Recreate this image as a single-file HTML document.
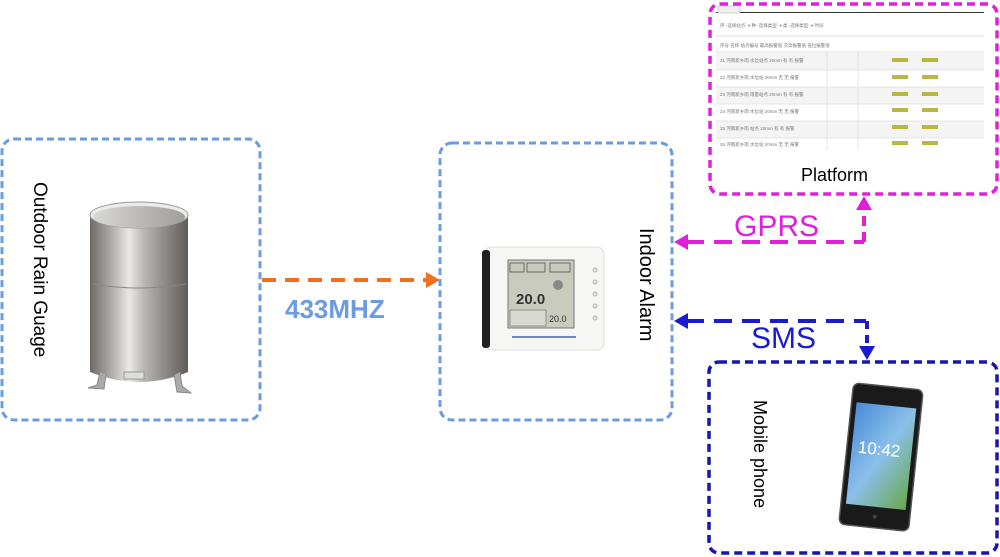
<!DOCTYPE html>
<html><head><meta charset="utf-8"><style>
html,body{margin:0;padding:0;background:#fff;width:1000px;height:557px;overflow:hidden}
svg{display:block}
text{font-family:"Liberation Sans","Noto Sans CJK SC",sans-serif}
</style></head><body>
<svg width="1000" height="557" viewBox="0 0 1000 557" xmlns="http://www.w3.org/2000/svg">
<defs>
<linearGradient id="cyl" x1="0" x2="1" y1="0" y2="0">
<stop offset="0" stop-color="#6d6a68"/><stop offset="0.15" stop-color="#9a9794"/>
<stop offset="0.4" stop-color="#e8e8e6"/><stop offset="0.55" stop-color="#b9b7b4"/>
<stop offset="0.85" stop-color="#7c7976"/><stop offset="1" stop-color="#5f5c5a"/>
</linearGradient>
<linearGradient id="inner" x1="0" x2="1"><stop offset="0" stop-color="#d8d8d6"/><stop offset="1" stop-color="#a09e9c"/></linearGradient>
<linearGradient id="scr" x1="0" x2="1" y1="0" y2="1"><stop offset="0" stop-color="#4a8ad8"/><stop offset="0.5" stop-color="#8ac0ea"/><stop offset="1" stop-color="#6aa84a"/></linearGradient>
</defs>

<rect x="2" y="139" width="258" height="281" rx="12" fill="none" stroke="#6b9be0" stroke-width="3" stroke-dasharray="7,4"/>
<text transform="translate(34,182) rotate(90)" font-size="19" fill="#000">Outdoor Rain Guage</text>
<path d="M90 215 L90 372 Q139 392 188 372 L188 215 Z" fill="url(#cyl)"/>
<ellipse cx="139" cy="215" rx="49" ry="13" fill="#ebebea" stroke="#999" stroke-width="1"/>
<ellipse cx="139" cy="217" rx="46" ry="11" fill="url(#inner)"/>
<path d="M92 284 Q139 292 186 284" stroke="#8a8886" stroke-width="1" fill="none"/>
<path d="M100 372 L97 385 L88 388 L104 389 L106 375" fill="#aaa" stroke="#888"/>
<path d="M174 375 L177 392 L191 393 L182 386 L180 372" fill="#aaa" stroke="#888"/>
<rect x="124" y="372" width="20" height="7" fill="#ddd" stroke="#999"/>

<line x1="262" y1="280" x2="428" y2="280" stroke="#f07020" stroke-width="4" stroke-dasharray="14,9"/>
<polygon points="426,272 440,280 426,288" fill="#f07020"/>
<text x="285" y="318" font-size="26" font-weight="bold" fill="#6b9be0">433MHZ</text>

<rect x="440" y="143" width="232" height="277" rx="12" fill="none" stroke="#6b9be0" stroke-width="3" stroke-dasharray="7,4"/>
<text transform="translate(640,228) rotate(90)" font-size="20" fill="#000">Indoor Alarm</text>
<rect x="484" y="247" width="120" height="103" rx="7" fill="#f6f6f4" stroke="#ddd"/>
<rect x="482" y="250" width="8" height="98" rx="3" fill="#222"/>
<rect x="508" y="260" width="66" height="68" fill="#c9cbbf" stroke="#777"/>
<rect x="510" y="263" width="14" height="9" fill="none" stroke="#555" stroke-width="0.8"/>
<rect x="527" y="263" width="18" height="9" fill="none" stroke="#555" stroke-width="0.8"/>
<rect x="550" y="263" width="20" height="9" fill="none" stroke="#555" stroke-width="0.8"/>
<text x="516" y="304" font-size="15" font-weight="bold" fill="#333">20.0</text>
<circle cx="558" cy="285" r="5" fill="#888"/>
<rect x="510" y="310" width="36" height="16" fill="#d8d9d0" stroke="#666" stroke-width="0.6"/>
<text x="549" y="322" font-size="9" fill="#333">20.0</text>
<line x1="512" y1="337" x2="576" y2="337" stroke="#6a8ac0" stroke-width="2"/>
<g fill="#e0e0e0" stroke="#bbb"><circle cx="595" cy="270" r="2"/><circle cx="595" cy="282" r="2"/><circle cx="595" cy="294" r="2"/><circle cx="595" cy="306" r="2"/><circle cx="595" cy="318" r="2"/></g>

<rect x="710" y="4" width="287" height="190" rx="10" fill="none" stroke="#e020d8" stroke-width="3.5" stroke-dasharray="8,5"/>
<g font-size="4.5" fill="#777">
<rect x="716" y="12" width="268" height="1" fill="#333"/>
<rect x="718" y="6" width="22" height="7" fill="#eee" stroke="#aaa" stroke-width="0.5"/>
<line x1="716" y1="36" x2="984" y2="36" stroke="#ddd"/>
<line x1="716" y1="52" x2="984" y2="52" stroke="#ddd"/>
<rect x="716" y="52" width="268" height="18" fill="#f4f4f4"/>
<rect x="716" y="87" width="268" height="17" fill="#f4f4f4"/>
<rect x="716" y="121" width="268" height="17" fill="#f4f4f4"/>
<g stroke="#e4e4e4"><line x1="716" y1="70" x2="984" y2="70"/><line x1="716" y1="87" x2="984" y2="87"/><line x1="716" y1="104" x2="984" y2="104"/><line x1="716" y1="121" x2="984" y2="121"/><line x1="716" y1="138" x2="984" y2="138"/><line x1="827" y1="52" x2="827" y2="150"/><line x1="858" y1="52" x2="858" y2="150"/></g>
<g fill="#b8b840">
<rect x="892" y="58" width="16" height="4"/><rect x="922" y="58" width="16" height="4"/>
<rect x="892" y="75" width="16" height="4"/><rect x="922" y="75" width="16" height="4"/>
<rect x="892" y="92" width="16" height="4"/><rect x="922" y="92" width="16" height="4"/>
<rect x="892" y="108" width="16" height="4"/><rect x="922" y="108" width="16" height="4"/>
<rect x="892" y="125" width="16" height="4"/><rect x="922" y="125" width="16" height="4"/>
<rect x="892" y="141" width="16" height="4"/><rect x="922" y="141" width="16" height="4"/>
</g>
<text x="720" y="27">序 -选择站点- ▾ 种 -选择类型- ▾ 类 -选择类型- ▾ 时间</text>
<text x="720" y="47">序号  名称  站点编号  最高报警值  次高报警值  低位报警值</text>
<text x="720" y="62">21   河南新乡雨   水位站点   20mm   有   有                                             报警</text>
<text x="720" y="79">22   河南新乡雨   水位站   20mm   无   无                                              报警</text>
<text x="720" y="96">23   河南新乡雨   雨量站点   20mm   有   有                                             报警</text>
<text x="720" y="113">24   河南新乡雨   水位站   20mm   无   无                                              报警</text>
<text x="720" y="130">25   河南新乡雨   站点   20mm   有   有                                                报警</text>
<text x="720" y="146">26   河南新乡雨   水位站   20mm   无   无                                              报警</text>
</g>
<text x="801" y="181" font-size="18" fill="#000">Platform</text>

<line x1="686" y1="242" x2="864" y2="242" stroke="#e020d8" stroke-width="4" stroke-dasharray="18,10"/>
<polygon points="688,234 674,242 688,250" fill="#e020d8"/>
<line x1="864" y1="242" x2="864" y2="208" stroke="#e020d8" stroke-width="4" stroke-dasharray="10,6"/>
<polygon points="856,210 864,196 872,210" fill="#e020d8"/>
<text x="734" y="236" font-size="30" fill="#e020d8">GPRS</text>

<line x1="686" y1="321" x2="866" y2="321" stroke="#1a1ad0" stroke-width="4" stroke-dasharray="18,10"/>
<polygon points="688,313 674,321 688,329" fill="#1a1ad0"/>
<line x1="867" y1="321" x2="867" y2="348" stroke="#1a1ad0" stroke-width="4" stroke-dasharray="8,6"/>
<polygon points="859,346 867,360 875,346" fill="#1a1ad0"/>
<text x="751" y="348" font-size="30" fill="#1a1ad0">SMS</text>

<rect x="709" y="362" width="288" height="191" rx="10" fill="none" stroke="#1818a8" stroke-width="3.5" stroke-dasharray="8,5"/>
<text transform="translate(754,400) rotate(90)" font-size="18" fill="#000">Mobile phone</text>
<g transform="rotate(6 880 457)">
<rect x="846" y="386" width="70" height="142" rx="6" fill="#1a1a1a" stroke="#555" stroke-width="1.5"/>
<rect x="851" y="405" width="60" height="102" fill="url(#scr)"/>
<text x="857" y="455" font-size="17" fill="#fff">10:42</text>
<circle cx="881" cy="517" r="2" fill="#444"/>
</g>
</svg>
</body></html>
